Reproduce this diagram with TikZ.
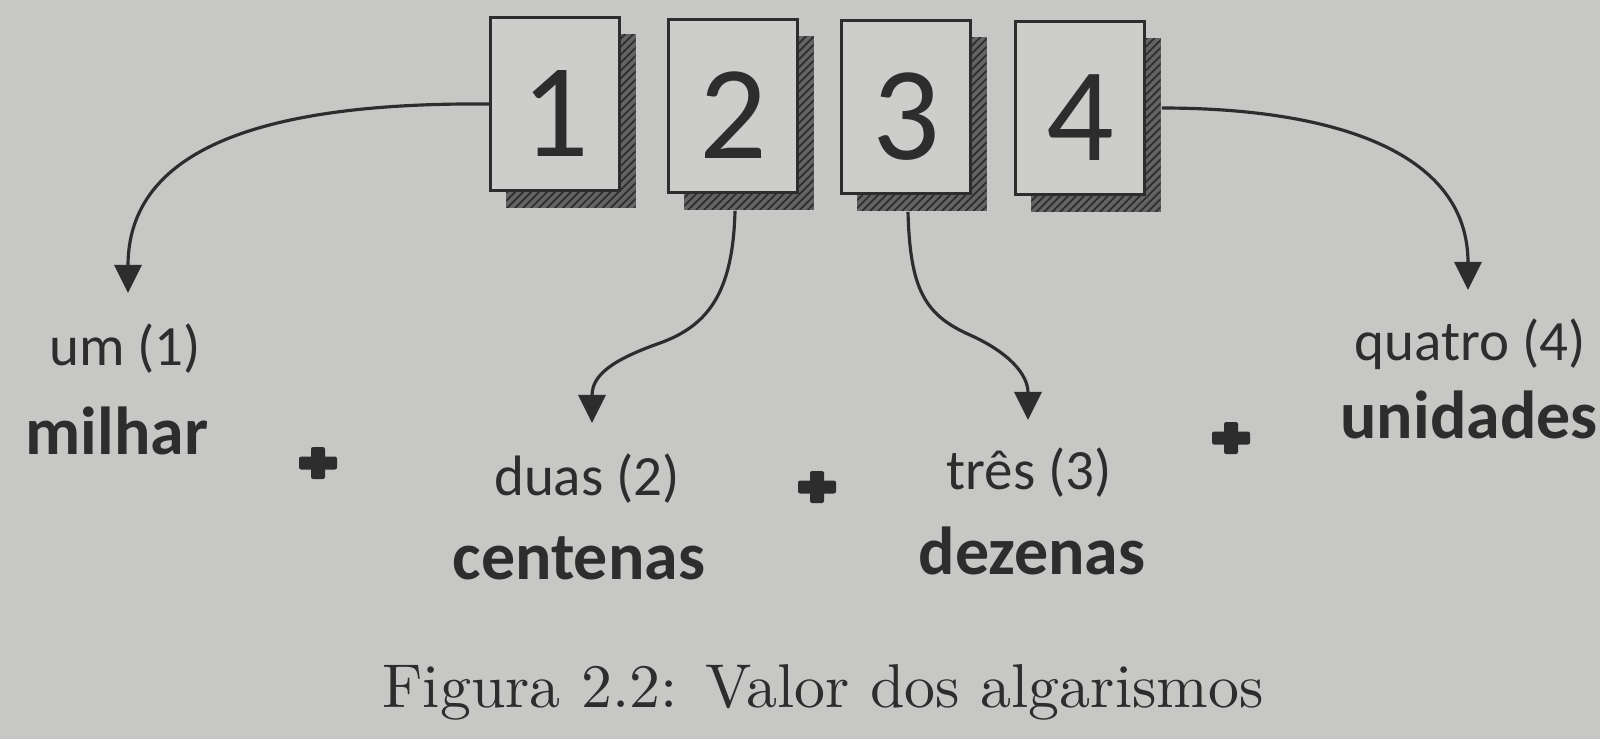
\documentclass[tikz,border=0pt]{standalone}
\usepackage{fontspec}
\setsansfont{Carlito}
\newfontfamily\capfont[Extension=.otf]{lmroman10-regular}
\usetikzlibrary{arrows.meta, shadows, patterns.meta}
\definecolor{paper}{RGB}{199,199,197}
\definecolor{boxfill}{RGB}{205,205,203}
\definecolor{ink}{RGB}{45,45,45}
\definecolor{shade}{RGB}{100,100,100}

\begin{document}
\begin{tikzpicture}[
    x=0.01cm, y=-0.01cm,
    digitbox/.style={rectangle, draw=ink, line width=0.7pt, fill=boxfill, minimum width=1.29cm, minimum height=1.73cm, inner sep=0pt,
        font=\sffamily\fontsize{38}{38}\selectfont, text=ink, text height=1.05cm, text depth=0pt,
        general shadow={fill=shade, shadow xshift=0.16cm, shadow yshift=-0.17cm},
        general shadow={pattern={Lines[angle=45, distance=1.6pt, line width=0.5pt]}, pattern color=ink, shadow xshift=0.16cm, shadow yshift=-0.17cm}},
    link/.style={-{Triangle[width=0.27cm, length=0.28cm]}, line width=0.9pt, draw=ink},
    small/.style={font=\sffamily\fontsize{16.2}{18}\selectfont, text=ink, anchor=base, inner sep=0pt},
    big/.style={font=\sffamily\bfseries\fontsize{19.3}{22}\selectfont, text=ink, anchor=base, inner sep=0pt},
    plussign/.pic={\fill[ink, rounded corners=0.6pt] (-19,-6.5) rectangle (19,6.5); \fill[ink, rounded corners=0.6pt] (-7,-16) rectangle (7,16);}
]
    % Background
    \fill[paper] (0,0) rectangle (1600,739);
    \useasboundingbox (0,0) rectangle (1600,739);

    % Digits
    \node[digitbox] (d1) at (555,104) {1};
    \node[digitbox] (d2) at (733,106) {2};
    \node[digitbox] (d3) at (906,107) {3};
    \node[digitbox] (d4) at (1080,108) {4};

    % Thousands
    \node[small] (um) at (125,365) {um (1)};
    \node[big] (milhar) at (117,454) {milhar};
    \coordinate (t1) at (128,293);
    \draw[link] (d1.west) .. controls (260,102) and (128,150) .. (t1);

    % Hundreds
    \node[small] (duas) at (587,495) {duas (2)};
    \node[big] (centenas) at (579,579) {centenas};
    \coordinate (t2) at (592,423);
    \draw[link] ([xshift=0.02cm, yshift=-0.17cm]d2.south) .. controls (733,290) and (710,325) .. (660,343)
        .. controls (612,360) and (592,375) .. (t2);

    % Tens
    \node[small] (tres) at (1029,489) {três (3)};
    \node[big] (dezenas) at (1032,574) {dezenas};
    \coordinate (t3) at (1028,420);
    \draw[link] ([xshift=0.02cm, yshift=-0.17cm]d3.south) .. controls (910,290) and (925,315) .. (970,335)
        .. controls (1010,353) and (1028,375) .. (t3);

    % Units
    \node[small] (quatro) at (1470,360) {quatro (4)};
    \node[big] (unidades) at (1469,438) {unidades};
    \coordinate (t4) at (1468,290);
    \draw[link] ([xshift=0.16cm]d4.east) .. controls (1330,108) and (1468,150) .. (t4);

    % Plus signs
    \pic (p1) at (318,463) {plussign};
    \pic (p2) at (817,487) {plussign};
    \pic (p3) at (1231,438) {plussign};

    % Caption
    \node[anchor=base, inner sep=0pt, text=ink, font=\capfont\fontsize{17.6}{20}\selectfont] (caption) at (823,707) {Figura 2.2: Valor dos algarismos};
\end{tikzpicture}
\end{document}
